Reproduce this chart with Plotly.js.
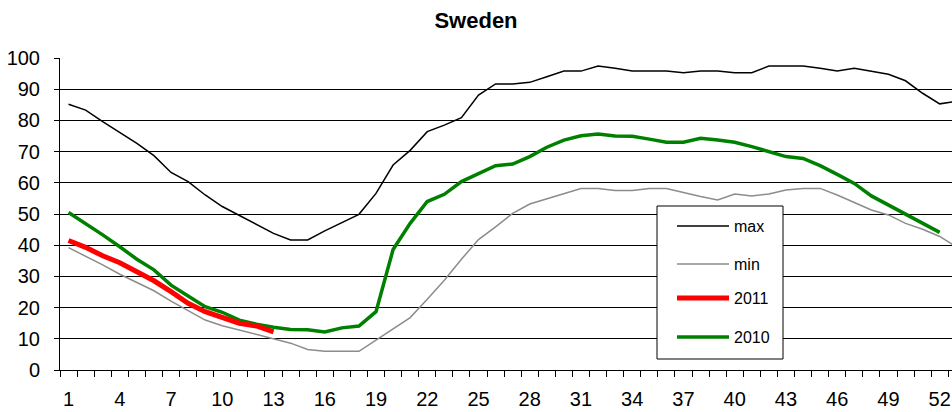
<!DOCTYPE html>
<html>
<head>
<meta charset="utf-8">
<script src="https://cdn.plot.ly/plotly-3.0.1.min.js"></script>
<style>html,body{margin:0;padding:0;background:#fff;}#chart{width:952px;height:412px;}</style>
</head>
<body>
<div id="chart"></div>
<script>
const weeks = Array.from({length: 53}, (_, i) => i + 1);

const maxVals = [85.2, 83.3, 79.6, 76.0, 72.6, 68.7, 63.3, 60.4, 56.1, 52.4,
  49.5, 46.5, 43.8, 41.7, 41.7, 44.6, 47.2, 49.9, 56.6, 65.7,
  70.4, 76.4, 78.5, 80.9, 88.1, 91.7, 91.7, 92.2, 94.0, 95.8,
  95.8, 97.4, 96.7, 95.8, 95.8, 95.8, 95.3, 95.8, 95.8, 95.3,
  95.3, 97.4, 97.4, 97.4, 96.7, 95.8, 96.7, 95.8, 94.8, 92.7,
  88.7, 85.3, 86.1];

const minVals = [39.2, 36.5, 33.7, 30.7, 28.0, 25.4, 22.1, 19.0, 16.0, 14.2,
  12.8, 11.4, 9.9, 8.6, 6.6, 6.0, 6.0, 6.0, 9.6, 13.2,
  16.8, 22.7, 28.8, 35.5, 41.8, 45.9, 50.2, 53.2, 54.8, 56.4,
  58.2, 58.2, 57.5, 57.5, 58.2, 58.2, 56.8, 55.6, 54.5, 56.4,
  55.8, 56.4, 57.7, 58.2, 58.2, 56.1, 53.7, 51.3, 49.7, 47.0,
  45.1, 42.8, 39.4];

const vals2011 = [41.5, 39.3, 36.6, 34.4, 31.5, 28.6, 25.1, 21.4, 18.7, 16.9,
  15.0, 14.1, 12.2];

const vals2010 = [50.5, 47.0, 43.3, 39.5, 35.5, 32.1, 27.2, 23.7, 20.3, 18.5,
  16.0, 14.7, 13.7, 13.0, 12.9, 12.2, 13.5, 14.1, 18.7, 38.6,
  47.0, 54.0, 56.3, 60.4, 62.8, 65.5, 66.0, 68.4, 71.4, 73.7,
  75.1, 75.6, 75.0, 74.9, 74.0, 73.0, 73.0, 74.3, 73.7, 73.0,
  71.6, 70.0, 68.4, 67.8, 65.5, 62.7, 59.8, 55.8, 52.9, 50.2,
  47.0, 44.1];

const seriesNames = ['max', 'min', '2011', '2010'];

const font = "Liberation Sans, Arial, sans-serif";

const styles = {
  'max':  {color: '#000000', width: 1.5},
  'min':  {color: '#8c8c8c', width: 1.5},
  '2011': {color: '#ff0000', width: 5},
  '2010': {color: '#008000', width: 3.5}
};
const seriesData = {'max': maxVals, 'min': minVals, '2011': vals2011, '2010': vals2010};

// drawing order: red on top
const drawOrder = ['max', 'min', '2010', '2011'];
const traces = drawOrder.map(n => ({
  x: weeks.slice(0, seriesData[n].length), y: seriesData[n], name: n,
  mode: 'lines', line: {color: styles[n].color, width: styles[n].width},
  showlegend: false
}));

// plot-area geometry helpers (pixels -> paper)
const L = 60, R = 952, T = 58, B = 370;
const px = x => (x - L) / (R - L);
const py = y => (B - y) / (B - T);

// legend box drawn with shapes + text annotations
const shapes = [{
  type: 'rect', xref: 'paper', yref: 'paper',
  x0: px(657), x1: px(783), y0: py(359), y1: py(206),
  line: {color: '#000', width: 1}, fillcolor: '#ffffff', layer: 'above'
}];
const annotations = [];
const rowY = [226, 264, 298, 337];
seriesNames.forEach((n, i) => {
  shapes.push({type: 'line', xref: 'paper', yref: 'paper',
    x0: px(677), x1: px(729), y0: py(rowY[i]), y1: py(rowY[i]),
    line: {color: styles[n].color, width: styles[n].width}, layer: 'above'});
  annotations.push({xref: 'paper', yref: 'paper', x: px(732), y: py(rowY[i]),
    xanchor: 'left', yanchor: 'middle', text: n, showarrow: false,
    font: {family: font, size: 16, color: '#000'}});
});

const layout = {
  width: 952, height: 412,
  margin: {l: L, r: 952 - R, t: T, b: 412 - B},
  paper_bgcolor: '#ffffff', plot_bgcolor: '#ffffff',
  font: {family: font, size: 20, color: '#000'},
  title: {text: '<b>Sweden</b>', font: {family: font, size: 22, color: '#000'},
          x: 0.5, xref: 'container', y: 1 - 20.5 / 412, yref: 'container', yanchor: 'middle'},
  showlegend: false,
  shapes: shapes,
  annotations: annotations,
  xaxis: {
    range: [0.5, 52.72], tickmode: 'linear', tick0: 1, dtick: 3,
    showgrid: false, zeroline: false,
    showline: true, linecolor: '#000', linewidth: 1,
    ticks: 'outside', ticklen: 6, tickcolor: 'rgba(0,0,0,0)',
    ticklabelstandoff: 5,
    tickfont: {family: font, size: 20, color: '#000'},
    minor: {tickmode: 'linear', tick0: 0.5, dtick: 1, ticks: 'outside', ticklen: 6,
            tickcolor: '#000', tickwidth: 1, showgrid: false}
  },
  yaxis: {
    range: [0, 100], tickmode: 'linear', tick0: 0, dtick: 10,
    showgrid: true, gridcolor: '#000', gridwidth: 1, zeroline: false,
    showline: true, linecolor: '#000', linewidth: 1,
    ticks: 'outside', ticklen: 5, tickcolor: '#000',
    ticklabelstandoff: 10,
    tickfont: {family: font, size: 20, color: '#000'}
  }
};

Plotly.newPlot('chart', traces, layout, {displayModeBar: false, staticPlot: true});
</script>
</body>
</html>
